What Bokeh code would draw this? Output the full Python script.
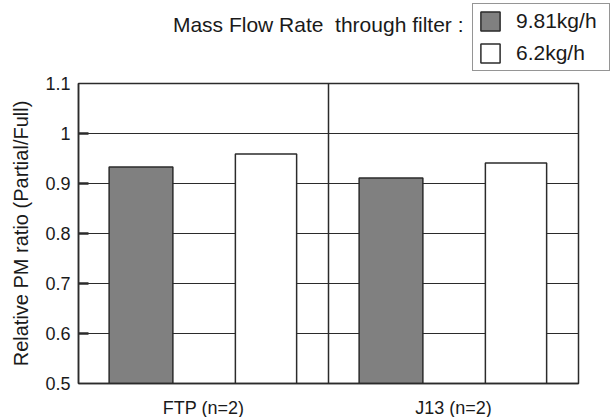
from bokeh.plotting import figure
from bokeh.layouts import column
from bokeh.models import (FactorRange, Range1d, Span, Legend, LegendItem, Label,
                          ColumnDataSource, FixedTicker)
from bokeh.transform import dodge
from bokeh.embed import file_html
from bokeh.resources import INLINE

categories = ["FTP (n=2)", "J13 (n=2)"]
series_names = ["9.81kg/h", "6.2kg/h"]
flow_981 = [0.933, 0.911]
flow_62 = [0.959, 0.941]
y_ticks = [0.5, 0.6, 0.7, 0.8, 0.9, 1.0, 1.1]
y_tick_labels = ["0.5", "0.6", "0.7", "0.8", "0.9", "1", "1.1"]
legend_title = "Mass Flow Rate\u00a0 through filter :"
y_title = "Relative PM ratio (Partial/Full)"

FONT = "Liberation Sans"
TXT = "#1a1a1a"
LINE = "#2b2b2b"
DARK = "#808080"

# ---------- header with the legend ----------
h = figure(width=613, height=73, x_range=Range1d(0, 1), y_range=Range1d(0, 1),
           min_border=0, output_backend="svg", toolbar_location=None,
           x_axis_type=None, y_axis_type=None)
h.frame_align = False
h.outline_line_color = None
h.grid.visible = False
nan = float("nan")
placeholder = ColumnDataSource(dict(x=[nan], top=[nan]))
d1 = h.vbar(x="x", top="top", width=0.1, source=placeholder,
            fill_color=DARK, line_color=LINE, line_width=1.5)
d2 = h.vbar(x="x", top="top", width=0.1, source=placeholder,
            fill_color="white", line_color=LINE, line_width=1.5)

legend = Legend(items=[LegendItem(label=series_names[0], renderers=[d1]),
                       LegendItem(label=series_names[1], renderers=[d2])],
                location=(472, 2))
legend.label_text_font = FONT
legend.label_text_font_size = "21px"
legend.label_text_color = TXT
legend.glyph_width = 24
legend.glyph_height = 24
legend.label_height = 24
legend.label_width = 88
legend.label_standoff = 14
legend.spacing = 8
legend.padding = 5
legend.margin = 0
legend.border_line_color = LINE
legend.border_line_width = 1.5
legend.background_fill_alpha = 1
h.add_layout(legend, "center")

h.add_layout(Label(x=463, y=49, x_units="screen", y_units="screen",
                   text=legend_title, text_align="right", text_baseline="middle",
                   text_font=FONT, text_font_size="21px", text_color=TXT))

# ---------- main chart ----------
src = ColumnDataSource(dict(cat=categories, a=flow_981, b=flow_62))

p = figure(x_range=FactorRange(*categories, range_padding=0),
           y_range=Range1d(y_ticks[0], y_ticks[-1]),
           frame_width=500, frame_height=300,
           min_border_left=78, min_border_right=35,
           min_border_top=10, min_border_bottom=34,
           output_backend="svg", toolbar_location=None,
           background_fill_color="white", border_fill_color="white")
p.frame_align = False

p.outline_line_color = LINE
p.outline_line_width = 1.5

r1 = p.vbar(x=dodge("cat", -0.25, range=p.x_range), top="a", bottom=0, width=0.255,
            source=src, fill_color=DARK, line_color=LINE, line_width=1.5)
r2 = p.vbar(x=dodge("cat", 0.25, range=p.x_range), top="b", bottom=0, width=0.245,
            source=src, fill_color="white", line_color=LINE, line_width=1.5)

p.add_layout(Span(location=1, dimension="height", line_color=LINE, line_width=1.5))

# inner tick marks on the left edge
p.ray(x=0, y=y_ticks[1:-1], length=10, length_units="screen", angle=0,
      line_color=LINE, line_width=2.5)

p.xgrid.visible = False
p.ygrid.grid_line_color = LINE
p.ygrid.grid_line_width = 1.2
p.ygrid.grid_line_alpha = 1.0

ya = p.yaxis[0]
ya.ticker = FixedTicker(ticks=y_ticks)
ya.major_label_overrides = {t: l for t, l in zip(y_ticks, y_tick_labels)}
ya.major_tick_in = 0
ya.major_tick_out = 0
ya.major_tick_line_color = None
ya.minor_tick_line_color = None
ya.axis_line_color = LINE
ya.axis_line_width = 1.5
ya.major_label_text_font = FONT
ya.major_label_text_font_size = "18px"
ya.major_label_text_color = TXT
ya.major_label_standoff = 8
ya.axis_label = y_title
ya.axis_label_text_font = FONT
ya.axis_label_text_font_size = "20px"
ya.axis_label_text_font_style = "normal"
ya.axis_label_text_color = TXT
ya.axis_label_standoff = 10

xa = p.xaxis[0]
xa.major_tick_line_color = None
xa.minor_tick_line_color = None
xa.axis_line_color = LINE
xa.axis_line_width = 1.5
xa.major_label_text_font = FONT
xa.major_label_text_font_size = "18px"
xa.major_label_text_color = TXT
xa.major_label_standoff = 8

layout = column(h, p, spacing=0)
open("out.html", "w").write(file_html(layout, INLINE))
